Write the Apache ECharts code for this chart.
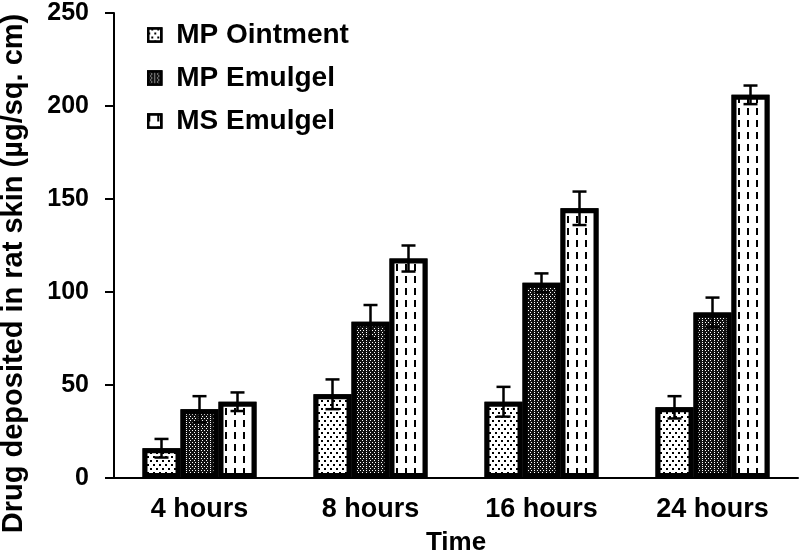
<!DOCTYPE html>
<html>
<head>
<meta charset="utf-8">
<script src="https://cdn.jsdelivr.net/npm/echarts@6/dist/echarts.min.js"></script>
<style>
  html, body { margin: 0; padding: 0; background: #fff; }
  #main { width: 799px; height: 556px; }
</style>
</head>
<body>
<div id="main"></div>
<script>
let categories = ['4 hours', '8 hours', '16 hours', '24 hours'];
let seriesNames = ['MP Ointment', 'MP Emulgel', 'MS Emulgel'];
let ointment = [16, 45, 41, 38];
let ointmentErr = [5, 8, 8, 6];
let mpEmulgel = [37, 84, 105, 89];
let mpEmulgelErr = [7, 9, 5, 8];
let msEmulgel = [41, 118, 145, 206];
let msEmulgelErr = [5, 7, 9, 5];

let dom = document.getElementById('main');
let myChart = echarts.init(dom);
let font = '"Liberation Sans", Arial, sans-serif';
let barW = 38;

let decals = [
    { symbol: 'rect', symbolSize: 1, dashArrayX: [[2, 4], [0, 3, 2, 1]], dashArrayY: [2, 2], color: '#000', backgroundColor: '#fff' },
    { symbol: 'rect', symbolSize: 1, dashArrayX: [[1, 2], [0, 1.5, 1, 0.5]], dashArrayY: [1, 1], color: '#fff', backgroundColor: '#111' },
    { symbol: 'rect', symbolSize: 1, dashArrayX: [2, 7], dashArrayY: [7, 5], color: '#000', backgroundColor: '#fff' }
];
let values = [ointment, mpEmulgel, msEmulgel];
let errs = [ointmentErr, mpEmulgelErr, msEmulgelErr];

function errorData(k) {
    return values[k].map(function (v, i) { return [i, v, errs[k][i]]; });
}

function errorRenderer(k) {
    return function (params, api) {
        let ci = api.value(0), mean = api.value(1), err = api.value(2);
        let x = api.coord([ci, mean])[0] + (k - 1) * barW;
        let top = api.coord([ci, mean + err])[1];
        let bot = api.coord([ci, mean - err])[1];
        let st = { stroke: '#000', lineWidth: 2.5 };
        return {
            type: 'group',
            children: [
                { type: 'line', shape: { x1: x, y1: top, x2: x, y2: bot }, style: st },
                { type: 'line', shape: { x1: x - 7, y1: top, x2: x + 7, y2: top }, style: st },
                { type: 'line', shape: { x1: x - 7, y1: bot, x2: x + 7, y2: bot }, style: st }
            ]
        };
    };
}

let series = [];
seriesNames.forEach(function (name, k) {
    series.push({
        name: name,
        type: 'bar',
        barWidth: barW,
        barGap: 0,
        data: values[k],
        itemStyle: { color: '#fff', borderColor: '#000', borderWidth: 5, decal: decals[k] },
        emphasis: { disabled: true },
        z: 2
    });
});
seriesNames.forEach(function (name, k) {
    series.push({
        type: 'custom',
        renderItem: errorRenderer(k),
        data: errorData(k),
        encode: { x: 0, y: 1 },
        z: 5,
        silent: true
    });
});

let option = {
    animation: false,
    backgroundColor: '#fff',
    textStyle: { fontFamily: font },
    legend: {
        orient: 'vertical',
        left: 142,
        top: 16,
        icon: 'rect',
        itemWidth: 13,
        itemHeight: 13,
        itemGap: 15,
        data: seriesNames,
        itemStyle: { borderColor: '#000', borderWidth: 2.5 },
        textStyle: { fontFamily: font, fontSize: 28, fontWeight: 'bold', color: '#000', padding: [0, 0, 0, 10] }
    },
    grid: { left: 114, right: 1, top: 13, bottom: 78, outerBoundsMode: 'none', containLabel: false },
    xAxis: {
        type: 'category',
        data: categories,
        name: 'Time',
        nameLocation: 'middle',
        nameGap: 52,
        nameTextStyle: { fontFamily: font, fontSize: 26, fontWeight: 'bold', color: '#000' },
        axisLine: { lineStyle: { color: '#000', width: 2 } },
        axisTick: { length: 7, lineStyle: { color: '#000', width: 2 } },
        axisLabel: { fontFamily: font, fontSize: 27, fontWeight: 'bold', color: '#000', margin: 18 }
    },
    yAxis: {
        type: 'value',
        min: 0,
        max: 250,
        interval: 50,
        name: 'Drug deposited in rat skin (\u00b5g/sq. cm)',
        nameLocation: 'middle',
        nameGap: 86,
        nameTextStyle: { fontFamily: font, fontSize: 29, fontWeight: 'bold', color: '#000', padding: [0, 56, 0, 0] },
        splitLine: { show: false },
        axisLine: { show: true, lineStyle: { color: '#000', width: 2 } },
        axisTick: { show: true, length: 9, lineStyle: { color: '#000', width: 2 } },
        axisLabel: { fontFamily: font, fontSize: 25, fontWeight: 'bold', color: '#000', margin: 25 }
    },
    series: series
};

if (option && typeof option === 'object') {
    myChart.setOption(option, true);
    window.addEventListener('resize', function () {
        myChart.resize();
    });
}
</script>
</body>
</html>
